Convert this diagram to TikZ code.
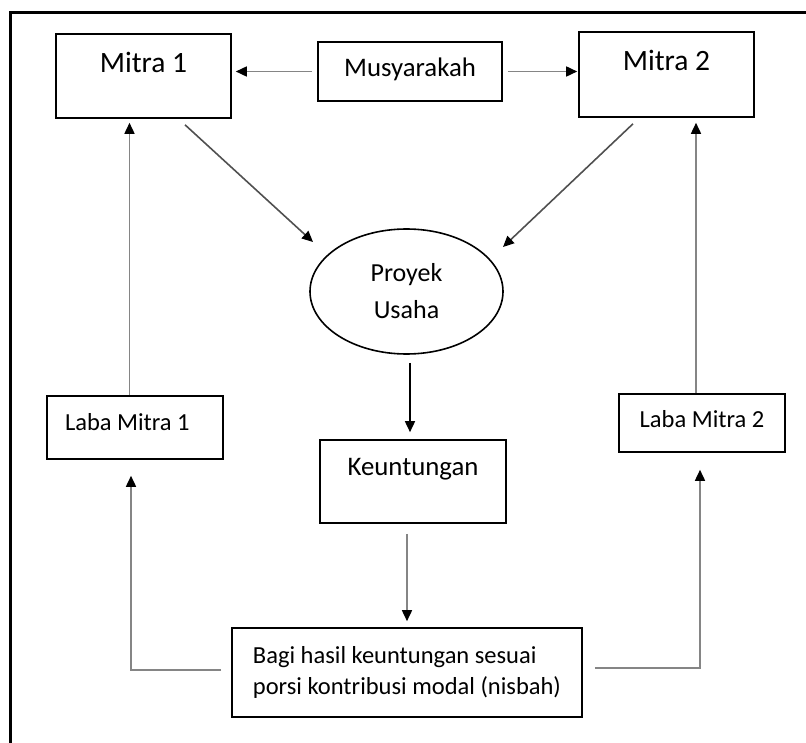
\documentclass[tikz,border=0pt]{standalone}
\usepackage{fontspec}
\setmainfont{Carlito}
\usetikzlibrary{arrows.meta,shapes.geometric}
\definecolor{linegray}{HTML}{858585}
\definecolor{darkline}{HTML}{505050}
\begin{document}
\begin{tikzpicture}[x=1pt,y=-1pt,
  box/.style={draw=black, line width=1.6pt, rectangle, inner sep=0pt},
  conn/.style={draw=linegray, line width=1.6pt, -{Triangle[length=11pt,width=10pt,color=black]}},
  bigtxt/.style={font=\fontsize{29.5}{34}\selectfont},
  midtxt/.style={font=\fontsize{26.8}{32}\selectfont},
  smalltxt/.style={font=\fontsize{24.5}{31}\selectfont}]
\useasboundingbox (0,0) rectangle (806,743);
% frame
\draw[line width=3pt] (10,745) -- (10,13) -- (808,13);
% nodes
\node[box, bigtxt, minimum width=175pt, minimum height=84pt, text height=22pt, text depth=29pt] (m1) at (143.5,76) {Mitra 1};
\node[box, bigtxt, minimum width=175pt, minimum height=85pt, text height=22pt, text depth=30pt] (m2) at (666.5,74.5) {Mitra 2};
\node[box, midtxt, minimum width=184pt, minimum height=59pt, text height=20pt, text depth=9.6pt] (mus) at (410,71.5) {Musyarakah};
\node[draw=black, ellipse, line width=1.6pt, minimum width=193pt, minimum height=125pt, inner sep=0pt, align=center, font=\fontsize{26}{37}\selectfont] (proj) at (406.5,291.5) {Proyek\\Usaha};
\node[box, midtxt, minimum width=186pt, minimum height=83pt, text height=20pt, text depth=32pt] (keu) at (413,481.5) {Keuntungan};
\node[box, smalltxt, minimum width=176pt, minimum height=63pt, text height=18pt, text depth=13pt, text width=140pt, align=flush left] (lm1) at (135,427.5) {Laba Mitra 1};
\node[box, smalltxt, minimum width=166pt, minimum height=58pt, text height=18pt, text depth=10pt] (lm2) at (702,423) {Laba Mitra 2};
\node[box, font=\fontsize{24.5}{31}\selectfont, minimum width=350pt, minimum height=89pt, align=left] (bagi) at (407,672.5) {Bagi hasil keuntungan sesuai\\porsi kontribusi modal (nisbah)};
% helper coordinates
\coordinate (pk) at ([xshift=3.5pt]proj.south);
\coordinate (l1) at ([xshift=-4pt]lm1.south);
\coordinate (l2) at ([xshift=-2pt]lm2.south);
\coordinate (u1) at ([xshift=-5.5pt]lm1.north);
\coordinate (u2) at ([xshift=-6pt]lm2.north);
% connectors
\draw[conn, shorten <=5pt, shorten >=4pt] (mus.west) -- (mus.west -| m1.east);
\draw[conn, shorten <=5pt, shorten >=1pt] (mus.east) -- (mus.east -| m2.west);
\draw[conn, draw=darkline] ([shift={(41.5,6)}]m1.south) -- ([shift={(-93.5,-49.5)}]proj.center);
\draw[conn, draw=darkline] ([shift={(-33.5,6)}]m2.south) -- ([shift={(96.5,-44.5)}]proj.center);
\draw[conn, draw=black, shorten <=8pt, shorten >=7pt] (pk) -- (pk |- keu.north);
\draw[conn, shorten <=10pt, shorten >=6pt] (bagi.north |- keu.south) -- (bagi.north);
\draw[conn, shorten <=10pt, shorten >=16pt] ([yshift=2.5pt]bagi.west) -| (l1);
\draw[conn, shorten <=12pt, shorten >=17pt] ([yshift=4.5pt]bagi.east) -| (l2);
\draw[conn, shorten >=4pt] (u1) -- (u1 |- m1.south);
\draw[conn, shorten >=5pt] (u2) -- (u2 |- m2.south);
\end{tikzpicture}
\end{document}
